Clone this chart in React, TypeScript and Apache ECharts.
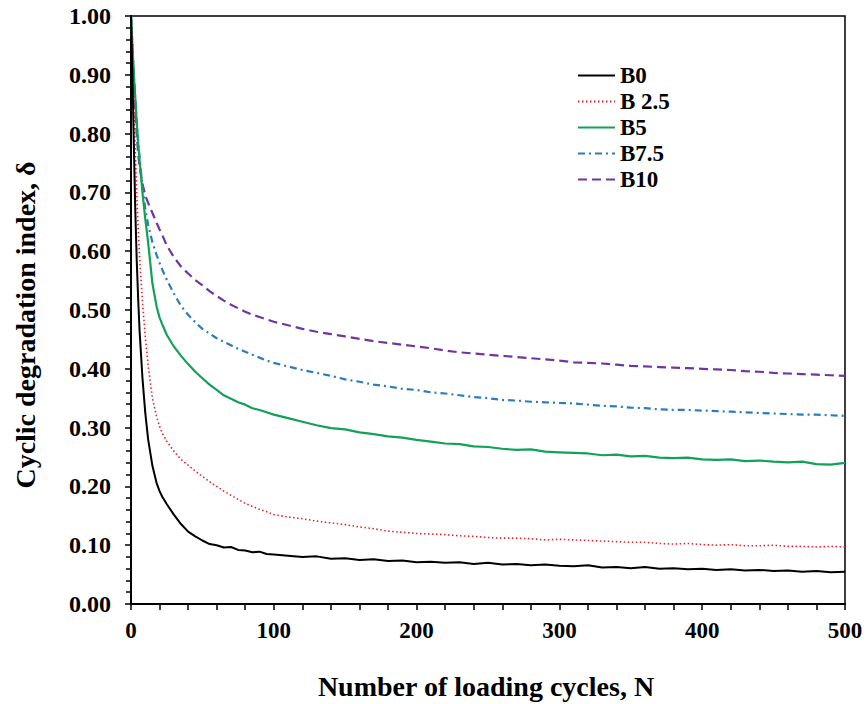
import React, { useEffect, useRef } from "react";
import * as echarts from "echarts";

const cycles = [0, 1, 2, 3, 4, 5, 6, 8, 10, 12, 15, 18, 20, 22, 25, 30, 35, 40, 45, 50, 55, 60, 65, 70, 75, 80, 85, 90, 95, 100,
  110, 120, 130, 140, 150, 160, 170, 180, 190, 200, 210, 220, 230, 240, 250, 260, 270, 280, 290, 300,
  310, 320, 330, 340, 350, 360, 370, 380, 390, 400, 410, 420, 430, 440, 450, 460, 470, 480, 490, 500];

const b0 = [1.0, 0.9, 0.78, 0.67, 0.585, 0.52, 0.465, 0.385, 0.325, 0.28, 0.235, 0.205, 0.192, 0.182, 0.17, 0.152, 0.136, 0.123, 0.115, 0.108, 0.102, 0.1, 0.096, 0.097, 0.092, 0.091, 0.088, 0.089, 0.085, 0.084,
  0.082, 0.08, 0.081, 0.077, 0.078, 0.075, 0.076, 0.073, 0.074, 0.071, 0.072, 0.07, 0.071, 0.068, 0.07, 0.067, 0.068, 0.066, 0.067, 0.065,
  0.064, 0.066, 0.062, 0.063, 0.061, 0.063, 0.06, 0.061, 0.059, 0.06, 0.058, 0.059, 0.057, 0.058, 0.056, 0.057, 0.055, 0.056, 0.054, 0.055];

const b25 = [1.0, 0.93, 0.85, 0.77, 0.7, 0.64, 0.59, 0.515, 0.455, 0.405, 0.35, 0.318, 0.302, 0.29, 0.277, 0.26, 0.246, 0.236, 0.226, 0.217, 0.208, 0.2, 0.192, 0.185, 0.178, 0.171, 0.166, 0.161, 0.157, 0.152,
  0.148, 0.145, 0.141, 0.138, 0.135, 0.131, 0.128, 0.124, 0.122, 0.12, 0.119, 0.118, 0.116, 0.115, 0.113, 0.112, 0.112, 0.111, 0.109, 0.11,
  0.109, 0.108, 0.107, 0.106, 0.105, 0.105, 0.103, 0.102, 0.103, 0.101, 0.1, 0.101, 0.099, 0.099, 0.1, 0.098, 0.098, 0.097, 0.098, 0.097];

const b5 = [1.0, 0.95, 0.9, 0.86, 0.82, 0.785, 0.755, 0.7, 0.655, 0.615, 0.545, 0.505, 0.487, 0.475, 0.458, 0.438, 0.422, 0.408, 0.395, 0.384, 0.373, 0.364, 0.355, 0.349, 0.343, 0.339, 0.333, 0.33, 0.326, 0.322,
  0.316, 0.31, 0.304, 0.299, 0.297, 0.292, 0.289, 0.285, 0.283, 0.279, 0.276, 0.273, 0.272, 0.268, 0.267, 0.264, 0.262, 0.263, 0.259, 0.258,
  0.257, 0.256, 0.253, 0.254, 0.251, 0.252, 0.249, 0.248, 0.249, 0.246, 0.245, 0.246, 0.243, 0.244, 0.242, 0.241, 0.242, 0.238, 0.237, 0.24];

const b75 = [1.0, 0.95, 0.9, 0.86, 0.82, 0.785, 0.76, 0.71, 0.672, 0.645, 0.615, 0.593, 0.58, 0.568, 0.552, 0.528, 0.507, 0.492, 0.479, 0.468, 0.46, 0.452, 0.446, 0.44, 0.434, 0.429, 0.424, 0.419, 0.414, 0.41,
  0.404, 0.398, 0.393, 0.388, 0.382, 0.378, 0.373, 0.37, 0.366, 0.364, 0.36, 0.358, 0.355, 0.352, 0.35, 0.347, 0.346, 0.344, 0.343, 0.342,
  0.341, 0.339, 0.337, 0.336, 0.334, 0.333, 0.331, 0.33, 0.33, 0.329, 0.328, 0.327, 0.326, 0.325, 0.324, 0.323, 0.322, 0.322, 0.321, 0.32];

const b10 = [1.0, 0.94, 0.885, 0.84, 0.8, 0.765, 0.745, 0.715, 0.695, 0.682, 0.665, 0.648, 0.637, 0.627, 0.61, 0.59, 0.574, 0.562, 0.551, 0.542, 0.532, 0.524, 0.516, 0.509, 0.503, 0.497, 0.492, 0.488, 0.484, 0.48,
  0.474, 0.468, 0.463, 0.459, 0.455, 0.451, 0.447, 0.444, 0.441, 0.438, 0.435, 0.431, 0.428, 0.426, 0.424, 0.422, 0.42, 0.418, 0.416, 0.414,
  0.411, 0.41, 0.409, 0.407, 0.405, 0.404, 0.403, 0.402, 0.401, 0.4, 0.399, 0.398, 0.396, 0.395, 0.393, 0.392, 0.391, 0.39, 0.389, 0.388];

const seriesNames = ["B0", "B 2.5", "B5", "B7.5", "B10"];
const xTitle = "Number of loading cycles, N";
const yTitle = "Cyclic degradation index, δ";

const FONT = '"Liberation Serif", "Times New Roman", serif';

export default function App() {
  const ref = useRef<HTMLDivElement>(null);
  useEffect(() => {
    if (!ref.current) return;
    const chart = echarts.init(ref.current, undefined, { renderer: "svg" });
    const pair = (ys: number[]) => cycles.map((x, i) => [x, ys[i]]);
    const styles = [
      { color: "#000000", width: 2, type: "solid" as any },
      { color: "#e8232b", width: 1.6, type: [1.5, 2.5] as any },
      { color: "#12a158", width: 2.2, type: "solid" as any },
      { color: "#2a7cc0", width: 2.2, type: [7, 4, 2, 4] as any },
      { color: "#6f35a5", width: 2.2, type: [9, 5] as any },
    ];
    const datas = [b0, b25, b5, b75, b10];
    chart.setOption({
      animation: false,
      backgroundColor: "#ffffff",
      grid: { left: 131, right: 21, top: 16, bottom: 100, show: true, borderColor: "#000", borderWidth: 1.5 },
      legend: {
        left: 572,
        top: 59,
        orient: "vertical",
        itemWidth: 37,
        itemHeight: 14,
        itemGap: 3,
        itemStyle: { opacity: 0, borderWidth: 0 },
        textStyle: { fontFamily: FONT, fontWeight: "bold", fontSize: 23, color: "#000" },
        data: seriesNames,
      },
      xAxis: {
        type: "value",
        min: 0,
        max: 500,
        interval: 100,
        axisLine: { show: true, onZero: false, lineStyle: { color: "#000", width: 2 } },
        axisTick: { show: true, inside: false, length: 6, lineStyle: { color: "#000", width: 1.5 } },
        minorTick: { show: true, splitNumber: 5, length: 6, lineStyle: { color: "#000", width: 1.5 } },
        splitLine: { show: false },
        axisLabel: { color: "#000", fontFamily: FONT, fontWeight: "bold", fontSize: 23, margin: 15 },
      },
      yAxis: {
        type: "value",
        min: 0,
        max: 1,
        interval: 0.1,
        axisLine: { show: true, onZero: false, lineStyle: { color: "#000", width: 2 } },
        axisTick: { show: true, inside: false, length: 6, lineStyle: { color: "#000", width: 1.5 } },
        minorTick: { show: true, splitNumber: 5, length: 5, lineStyle: { color: "#000", width: 1.5 } },
        splitLine: { show: false },
        axisLabel: {
          color: "#000", fontFamily: FONT, fontWeight: "bold", fontSize: 24, margin: 20,
          formatter: (v: number) => v.toFixed(2),
        },
      },
      graphic: [
        {
          type: "text", x: 25, y: 325, rotation: Math.PI / 2,
          style: { text: yTitle, font: `bold 28px ${FONT}`, fill: "#000", align: "center", verticalAlign: "middle" },
        },
        {
          type: "text", x: 486, y: 686,
          style: { text: xTitle, font: `bold 28px ${FONT}`, fill: "#000", align: "center", verticalAlign: "middle" },
        },
      ],
      series: seriesNames.map((name, i) => ({
        name,
        type: "line",
        data: pair(datas[i]),
        symbol: "none",
        showSymbol: false,
        lineStyle: styles[i],
        itemStyle: { color: styles[i].color },
        z: 5 - i,
      })),
    });
    return () => chart.dispose();
  }, []);
  return <div ref={ref} style={{ position: "fixed", left: 0, top: 0, width: 866, height: 704, background: "#fff" }} />;
}
